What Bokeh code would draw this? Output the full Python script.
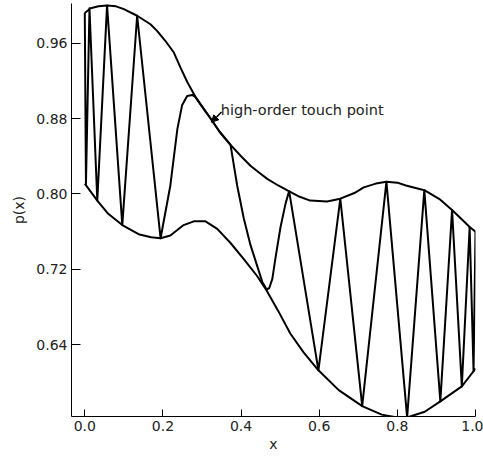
from bokeh.plotting import figure
from bokeh.models import FixedTicker, PrintfTickFormatter, Label, Arrow, NormalHead, Range1d
from bokeh.embed import file_html
from bokeh.resources import INLINE

# upper envelope
upper_x = [0.000, 0.015, 0.035, 0.057, 0.080, 0.100, 0.134, 0.168, 0.185, 0.205, 0.228,
           0.245, 0.262, 0.283, 0.303, 0.322, 0.345, 0.373, 0.400, 0.424, 0.445, 0.467,
           0.495, 0.522, 0.550, 0.577, 0.620, 0.654, 0.690, 0.714, 0.745, 0.772, 0.800,
           0.822, 0.869, 0.910, 0.940, 0.970, 0.985, 1.000]
upper_y = [0.992, 0.997, 0.999, 1.000, 0.999, 0.996, 0.989, 0.980, 0.973, 0.963, 0.950,
           0.934, 0.919, 0.903, 0.891, 0.880, 0.866, 0.852, 0.840, 0.830, 0.823, 0.816,
           0.809, 0.803, 0.797, 0.793, 0.792, 0.795, 0.801, 0.807, 0.811, 0.813, 0.812,
           0.809, 0.804, 0.794, 0.783, 0.771, 0.765, 0.760]

# lower envelope
lower_x = [0.000, 0.032, 0.060, 0.096, 0.140, 0.170, 0.194, 0.219, 0.253, 0.279, 0.309,
           0.339, 0.373, 0.407, 0.441, 0.465, 0.495, 0.526, 0.560, 0.598, 0.650, 0.710,
           0.760, 0.800, 0.825, 0.870, 0.910, 0.965, 0.995, 1.000]
lower_y = [0.811, 0.793, 0.779, 0.767, 0.757, 0.754, 0.753, 0.756, 0.767, 0.771, 0.771,
           0.763, 0.748, 0.731, 0.713, 0.698, 0.676, 0.652, 0.632, 0.613, 0.592, 0.575,
           0.566, 0.563, 0.563, 0.569, 0.580, 0.596, 0.612, 0.615]

# oscillating p(x)
osc_x = [0.000, 0.003, 0.012, 0.032, 0.057, 0.096, 0.134, 0.194, 0.219, 0.237, 0.249,
         0.262, 0.275, 0.283, 0.303, 0.322, 0.345, 0.373, 0.390, 0.407, 0.424, 0.441,
         0.454, 0.465, 0.472, 0.480, 0.488, 0.501, 0.514, 0.523, 0.598, 0.654, 0.710,
         0.772, 0.825, 0.869, 0.910, 0.940, 0.965, 0.985, 0.995, 1.000]
osc_y = [0.992, 0.810, 0.997, 0.793, 1.000, 0.767, 0.989, 0.753, 0.809, 0.869, 0.894,
         0.904, 0.905, 0.903, 0.891, 0.880, 0.866, 0.852, 0.809, 0.774, 0.746, 0.724,
         0.707, 0.699, 0.700, 0.710, 0.732, 0.765, 0.790, 0.803, 0.613, 0.795, 0.575,
         0.813, 0.563, 0.804, 0.580, 0.783, 0.596, 0.765, 0.612, 0.760]

x_ticks = [0.0, 0.2, 0.4, 0.6, 0.8, 1.0]
y_ticks = [0.64, 0.72, 0.80, 0.88, 0.96]
note_text = "high-order touch point"
x_title = "x"
y_title = "p(x)"

FONT = "DejaVu Sans"

p = figure(width=483, height=458, x_range=Range1d(-0.034, 1.0), y_range=Range1d(0.564, 1.002),
           output_backend="svg", toolbar_location=None,
           min_border_left=71, min_border_right=8, min_border_top=3, min_border_bottom=42)
p.outline_line_color = None
p.grid.visible = False
p.background_fill_color = "white"
p.border_fill_color = "white"

for xs, ys in ((upper_x, upper_y), (lower_x, lower_y), (osc_x, osc_y)):
    p.line(xs, ys, line_color="black", line_width=2, line_join="round")

p.xaxis.ticker = FixedTicker(ticks=x_ticks)
p.yaxis.ticker = FixedTicker(ticks=y_ticks)
p.xaxis.formatter = PrintfTickFormatter(format="%.1f")
p.yaxis.formatter = PrintfTickFormatter(format="%.2f")
p.xaxis.axis_label = x_title
p.yaxis.axis_label = y_title
for ax in (p.xaxis, p.yaxis):
    ax.axis_line_color = "black"
    ax.axis_line_width = 1
    ax.major_tick_line_color = "black"
    ax.major_tick_out = 0
    ax.minor_tick_line_color = None
    ax.major_label_text_font = FONT
    ax.major_label_text_font_size = "14px"
    ax.major_label_text_color = "#222222"
    ax.axis_label_text_font = FONT
    ax.axis_label_text_font_size = "14px"
    ax.axis_label_text_font_style = "normal"
    ax.axis_label_text_color = "#222222"
p.xaxis.major_tick_in = 7
p.yaxis.major_tick_in = 9
p.xaxis.major_label_standoff = 4
p.yaxis.major_label_standoff = 4
p.xaxis.axis_label_standoff = 2
p.yaxis.axis_label_standoff = 6

p.add_layout(Label(x=0.348, y=0.889, text=note_text, text_font=FONT, text_font_size="14.5px",
                   text_color="#222222", text_baseline="alphabetic"))
p.add_layout(Arrow(end=NormalHead(size=7, fill_color="black", line_color="black"),
                   x_start=0.350, y_start=0.887, x_end=0.324, y_end=0.876,
                   line_color="black", line_width=1.5))

open("out.html", "w").write(file_html(p, INLINE))
